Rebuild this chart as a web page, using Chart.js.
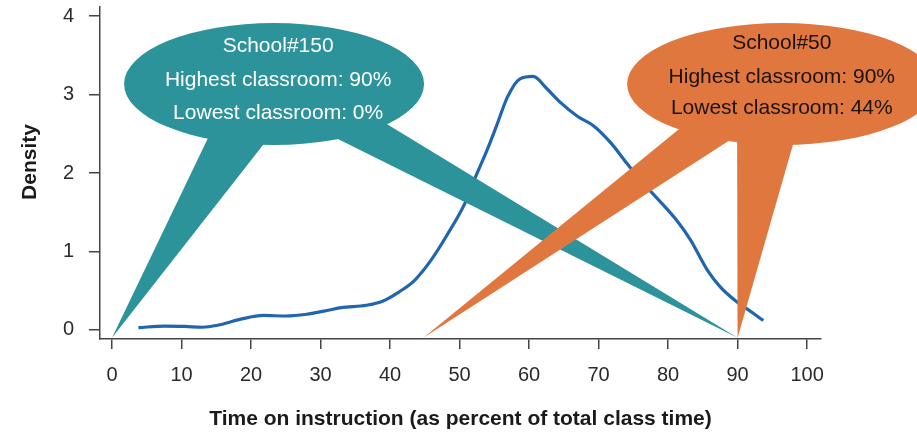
<!DOCTYPE html>
<html><head><meta charset="utf-8">
<script src="https://cdn.jsdelivr.net/npm/chart.js@4/dist/chart.umd.min.js"></script>
<style>html,body{margin:0;padding:0;background:#fff;}canvas{display:block;}</style>
</head><body>
<canvas id="c" width="917" height="434"></canvas>
<script>
// ---- data ----
const timeOnInstruction = [3.8, 7.6, 10.5, 13.0, 15.2, 18.4, 21.8, 25.0, 28.0, 30.5, 33.0, 36.6, 39.0, 41.2, 43.5, 45.9, 48.2, 50.8, 52.2, 54.0, 55.4, 56.9, 58.7, 60.6, 62.5, 64.5, 67.0, 69.3, 71.7, 74.1, 76.4, 78.4, 81.2, 83.2, 85.6, 87.5, 89.6, 92.3, 93.7];
const densityValues = [0.03, 0.05, 0.045, 0.035, 0.06, 0.135, 0.185, 0.178, 0.2, 0.24, 0.285, 0.315, 0.37, 0.48, 0.63, 0.89, 1.21, 1.62, 1.93, 2.3, 2.62, 2.97, 3.2, 3.23, 3.08, 2.9, 2.72, 2.6, 2.39, 2.12, 1.87, 1.68, 1.4, 1.15, 0.77, 0.55, 0.38, 0.21, 0.12];
const xTickValues = [0, 10, 20, 30, 40, 50, 60, 70, 80, 90, 100];
const yTickValues = [0, 1, 2, 3, 4];
const schoolNames = ['School#150', 'School#50'];
const highestClassroom = [90, 90];
const lowestClassroom = [0, 44];
const pointerLow = [0, 44.8];
const pointerHigh = [90, 90];
const xTitle = 'Time on instruction (as percent of total class time)';
const yTitle = 'Density';

// ---- decoration layout (data units) ----
const bubbleLayout = [
  { color: '#2c939b', text: '#ffffff', cx: 23.31, cy: 3.134, rx: 21.58, ry: 0.777, tx: 23.9, ty: [3.62, 3.18, 2.76],
    lowBase: [[13.81, 2.446], [21.73, 2.357]], highBase: [[32.81, 2.42], [39.28, 2.637]] },
  { color: '#e0773f', text: '#1c120b', cx: 96.4, cy: 3.134, rx: 22.3, ry: 0.777, tx: 96.36, ty: [3.65, 3.22, 2.82],
    lowBase: [[81.44, 2.548], [88.49, 2.395]], highBase: [[89.93, 2.408], [97.99, 2.369]] }
];
const tipY = -0.1;
const FONT = '"Liberation Sans", Arial, Helvetica, sans-serif';

const bubblePlugin = {
  id: 'bubbles',
  afterDatasetsDraw(chart) {
    const ctx = chart.ctx, xs = chart.scales.x, ys = chart.scales.y;
    const X = v => xs.getPixelForValue(v), Y = v => ys.getPixelForValue(v);
    bubbleLayout.forEach((b, i) => {
      ctx.save();
      ctx.fillStyle = b.color;
      const tails = [[pointerLow[i], b.lowBase], [pointerHigh[i], b.highBase]];
      tails.forEach(([tx, base]) => {
        const px = X(tx), py = Y(tipY);
        ctx.beginPath();
        ctx.moveTo(px, py);
        base.forEach(([bx, by]) => {
          const qx = X(bx), qy = Y(by);
          ctx.lineTo(px + (qx - px) * 1.08, py + (qy - py) * 1.08);
        });
        ctx.closePath();
        ctx.fill();
      });
      ctx.beginPath();
      ctx.ellipse(X(b.cx), Y(b.cy), X(b.cx + b.rx) - X(b.cx), Y(b.cy) - Y(b.cy + b.ry), 0, 0, Math.PI * 2);
      ctx.fill();
      ctx.fillStyle = b.text;
      ctx.font = '21px ' + FONT;
      ctx.textAlign = 'center';
      ctx.textBaseline = 'middle';
      const lines = [schoolNames[i], 'Highest classroom: ' + highestClassroom[i] + '%', 'Lowest classroom: ' + lowestClassroom[i] + '%'];
      lines.forEach((t, k) => ctx.fillText(t, X(b.tx), Y(b.ty[k])));
      ctx.restore();
    });
    // axis titles
    ctx.save();
    ctx.fillStyle = '#1a1a1a';
    ctx.font = 'bold 21px ' + FONT;
    ctx.textAlign = 'center';
    ctx.textBaseline = 'middle';
    ctx.fillText(xTitle, (chart.chartArea.left + chart.chartArea.right) / 2, 419);
    ctx.translate(30, 162);
    ctx.rotate(-Math.PI / 2);
    ctx.fillText(yTitle, 0, 0);
    ctx.restore();
  }
};

new Chart(document.getElementById('c'), {
  type: 'line',
  data: {
    datasets: [{
      data: timeOnInstruction.map((t, i) => ({ x: t, y: densityValues[i] })),
      borderColor: '#1f65b0',
      borderWidth: 3.2,
      pointRadius: 0,
      cubicInterpolationMode: 'monotone',
      fill: false
    }]
  },
  options: {
    responsive: false,
    animation: false,
    layout: { padding: { top: 7, right: 96, left: 0, bottom: 0 } },
    plugins: { legend: { display: false }, tooltip: { enabled: false } },
    scales: {
      x: {
        type: 'linear', min: -1.73, max: 102,
        afterBuildTicks: s => { s.ticks = xTickValues.map(v => ({ value: v })); },
        afterFit: s => { s.height = 95; s.paddingLeft = 0; s.paddingRight = 0; },
        grid: { drawOnChartArea: false, drawTicks: true, tickLength: 10, color: '#444', lineWidth: 1.5 },
        border: { display: true, color: '#444', width: 1.5 },
        ticks: { color: '#2a2a2a', font: { size: 20, family: FONT }, padding: 14, maxRotation: 0, autoSkip: false }
      },
      y: {
        type: 'linear', min: -0.115, max: 4.115,
        afterBuildTicks: s => { s.ticks = yTickValues.map(v => ({ value: v })); },
        afterFit: s => { s.width = 100; s.paddingTop = 0; s.paddingBottom = 0; },
        grid: { drawOnChartArea: false, drawTicks: true, tickLength: 11, color: '#444', lineWidth: 1.5 },
        border: { display: true, color: '#444', width: 1.5 },
        ticks: { color: '#2a2a2a', font: { size: 20, family: FONT }, padding: 15, autoSkip: false }
      }
    }
  },
  plugins: [bubblePlugin]
});
</script>
</body></html>
